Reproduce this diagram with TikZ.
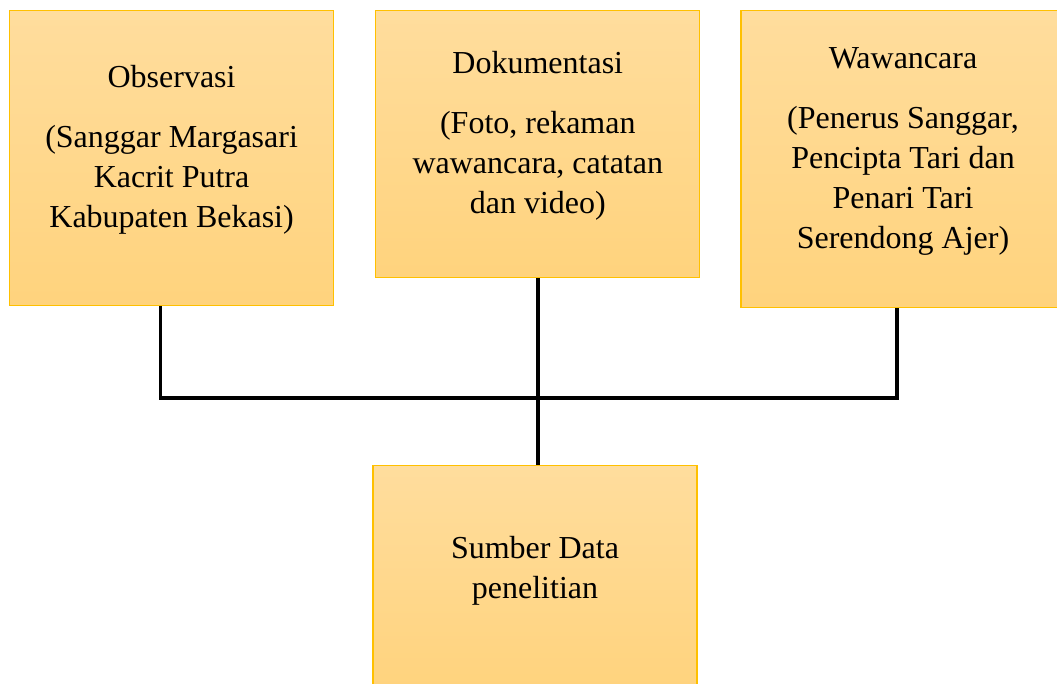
\documentclass[tikz,border=0pt]{standalone}
\usepackage{fontspec}
\setmainfont{Liberation Serif}
\usetikzlibrary{positioning}

\definecolor{boxtop}{RGB}{255,221,157}
\definecolor{boxbot}{RGB}{255,211,125}
\definecolor{boxline}{RGB}{255,192,0}

\begin{document}
\begin{tikzpicture}[
  x=1pt, y=1pt,
  srcbox/.style={draw=boxline, line width=1.2pt, top color=boxtop, bottom color=boxbot,
                 minimum width=324pt, inner sep=0pt},
  srctext/.style={align=center, inner sep=0pt, yshift=8pt,
                  font=\fontsize{32}{40}\selectfont},
  conn/.style={line width=3.6pt, black}
]
\useasboundingbox (0,0) rectangle (1057,-683);

% boxes
\node[srcbox, minimum height=295pt, anchor=north west] (obs) at (9,-10) {};
\node[srcbox, minimum height=267pt, anchor=north west] (dok) at ([xshift=41pt]obs.north east) {};
\node[srcbox, minimum height=297pt, anchor=north west] (waw) at ([xshift=40pt]dok.north east) {};
\node[srcbox, minimum height=226pt, anchor=north] (sum) at (535,-465) {};

% texts
\node[srctext] (obs-t) at (obs) {Observasi\\[20pt](Sanggar Margasari\\Kacrit Putra\\Kabupaten Bekasi)};
\node[srctext] (dok-t) at (dok) {Dokumentasi\\[20pt](Foto, rekaman\\wawancara, catatan\\dan video)};
\node[srctext] (waw-t) at (waw) {Wawancara\\[20pt](Penerus Sanggar,\\Pencipta Tari dan\\Penari Tari\\Serendong Ajer)};
\node[srctext] (sum-t) at (sum) {Sumber Data\\penelitian};

\coordinate (j) at (535,-398);
\draw[conn] ([xshift=-11pt]obs.south) |- (j) -| ([xshift=-6pt]waw.south);
\draw[conn] (dok.south) -- (dok.south |- sum.north);
\end{tikzpicture}
\end{document}
